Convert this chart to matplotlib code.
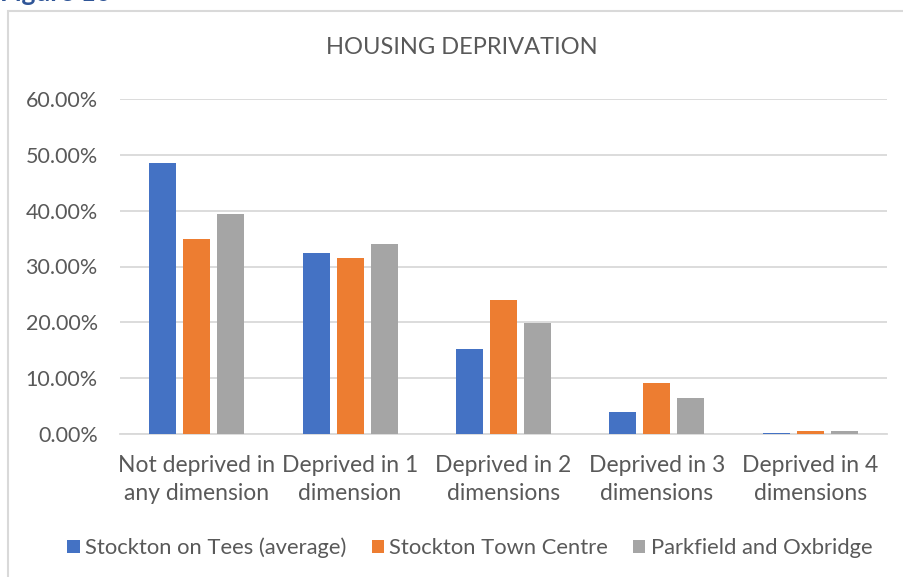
import matplotlib
matplotlib.use('Agg')
import matplotlib.pyplot as plt
from matplotlib.patches import Rectangle
import numpy as np

plt.rcParams['font.family'] = ['Lato', 'DejaVu Sans']

# data (share of households)
categories = ["Not deprived in\nany dimension", "Deprived in 1\ndimension",
              "Deprived in 2\ndimensions", "Deprived in 3\ndimensions",
              "Deprived in 4\ndimensions"]
series_names = ["Stockton on Tees (average)", "Stockton Town Centre",
                "Parkfield and Oxbridge"]
stockton_avg = [0.486, 0.325, 0.152, 0.040, 0.002]
town_centre = [0.350, 0.315, 0.240, 0.091, 0.0055]
parkfield = [0.394, 0.340, 0.199, 0.064, 0.005]
y_ticks = [0.0, 0.1, 0.2, 0.3, 0.4, 0.5, 0.6]

colors = ["#4472C4", "#ED7D31", "#A5A5A5"]
text_col = "#595959"
grid_col = "#D9D9D9"

W, H = 904, 577
fig = plt.figure(figsize=(W / 100, H / 100), dpi=100)

# chart frame (runs off the right and bottom edges)
fig.patches.append(Rectangle((8 / W, -0.1), 1.2, 1 - 11 / H + 0.1,
                             transform=fig.transFigure, fill=False,
                             edgecolor=grid_col, linewidth=1.5))
# heading of the page, mostly cropped away in the reference
fig.text(0.0, 1 - 1 / H, "Figure 10", color="#2F5597", fontsize=19,
         fontweight='bold', va='baseline', ha='left')

ax = fig.add_axes([120 / W, (H - 434) / H, 767 / W, 335 / H])
x = np.arange(len(categories))
pitch, width = 0.222, 0.176
for i, (vals, name) in enumerate(zip([stockton_avg, town_centre, parkfield], series_names)):
    ax.bar(x + (i - 1) * pitch, vals, width, color=colors[i], label=name, zorder=3)

ax.set_xlim(-0.5, len(categories) - 0.5)
ax.set_ylim(0, 0.6)
ax.set_yticks(y_ticks)
ax.set_yticklabels([f"{t * 100:.2f}%" for t in y_ticks], fontsize=15.5)
ax.set_xticks(x)
ax.set_xticklabels(categories, linespacing=1.4, fontsize=16.5)
ax.tick_params(axis='both', length=0, colors=text_col)
ax.tick_params(axis='y', pad=16)
ax.tick_params(axis='x', pad=15)
ax.grid(axis='y', color=grid_col, linewidth=1.3, zorder=0)
for s in ['top', 'right', 'left']:
    ax.spines[s].set_visible(False)
ax.spines['bottom'].set_color(grid_col)
ax.spines['bottom'].set_linewidth(1.3)

fig.text(462 / W, 1 - 48 / H, "HOUSING DEPRIVATION", color=text_col,
         fontsize=17, ha='center', va='center')

leg = fig.legend(loc='center', bbox_to_anchor=(470 / W, 1 - 548 / H), ncol=3,
                 frameon=False, fontsize=15.8, handlelength=0.55, handleheight=0.55,
                 handletextpad=0.25, columnspacing=1.15)
for t in leg.get_texts():
    t.set_color(text_col)

fig.savefig("out.png", dpi=100)
